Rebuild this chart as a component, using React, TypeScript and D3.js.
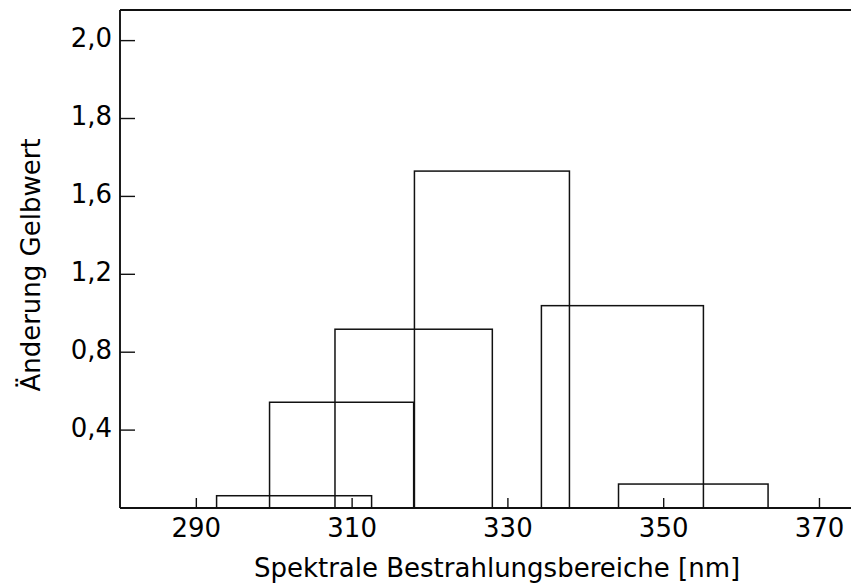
import React, { useRef, useEffect } from 'react'
import * as d3 from 'd3'

// spectral ranges (nm) and yellowness change per range
const binStarts = [292.6, 299.4, 307.8, 318, 334.3, 344.2]
const binEnds = [312.5, 317.9, 328, 337.9, 355.1, 363.4]
const changes = [0.063, 0.543, 0.918, 1.665, 1.039, 0.123]

const xTicks = [290, 310, 330, 350, 370]
const yTicks = [0.4, 0.8, 1.2, 1.6, 1.8, 2.0]
const yTickLabels = ['0,4', '0,8', '1,2', '1,6', '1,8', '2,0']

const xLabel = 'Spektrale Bestrahlungsbereiche [nm]'
const yLabel = 'Änderung Gelbwert'

const width = 851
const height = 585

export default function App() {
  const svgRef = useRef<SVGSVGElement>(null)

  useEffect(() => {
    if (!svgRef.current) return
    const svg = d3.select(svgRef.current)
    svg.selectAll('*').remove()

    const left = 120
    const right = 874
    const top = 10
    const bottom = 508
    const font = 'DejaVu Sans, sans-serif'
    const fontSize = '26px'
    const ink = '#111'

    const x = d3.scaleLinear().domain([280.2, 377]).range([left, right])
    // axis is not linear: 0..1.6 in steps of 0.4, then 1.6..2.0 in steps of 0.2
    const yUnits = d3.scaleLinear().domain([0, 1.6, 2.0]).range([0, 4, 6])
    const yPix = d3.scaleLinear().domain([0, 6.393]).range([bottom, top])
    const y = (v: number) => yPix(yUnits(v))

    // bars (outlines only)
    svg
      .append('g')
      .selectAll('rect')
      .data(changes.map((v, i) => ({ v, x0: binStarts[i], x1: binEnds[i] })))
      .enter()
      .append('rect')
      .attr('x', d => x(d.x0))
      .attr('y', d => y(d.v))
      .attr('width', d => x(d.x1) - x(d.x0))
      .attr('height', d => bottom - y(d.v))
      .attr('fill', 'none')
      .attr('stroke', ink)
      .attr('stroke-width', 1.5)

    // frame: left, top, bottom (right side lies outside the picture)
    const frame = svg.append('g').attr('stroke', ink).attr('stroke-width', 1.9)
    frame.append('line').attr('x1', left).attr('x2', left).attr('y1', top).attr('y2', bottom)
    frame.append('line').attr('x1', left).attr('x2', right).attr('y1', top).attr('y2', top)
    frame.append('line').attr('x1', left).attr('x2', right).attr('y1', bottom).attr('y2', bottom)

    // x ticks, pointing inward
    const xg = svg.append('g')
    xTicks.forEach(t => {
      xg.append('line')
        .attr('x1', x(t))
        .attr('x2', x(t))
        .attr('y1', bottom)
        .attr('y2', bottom - 10)
        .attr('stroke', ink)
        .attr('stroke-width', 1.4)
      xg.append('text')
        .attr('x', x(t))
        .attr('y', bottom + 29)
        .attr('text-anchor', 'middle')
        .style('font-family', font)
        .style('font-size', fontSize)
        .style('fill', '#000')
        .text(String(t))
    })

    // y ticks
    const yg = svg.append('g')
    yTicks.forEach((t, i) => {
      yg.append('line')
        .attr('x1', left)
        .attr('x2', left + 15)
        .attr('y1', y(t))
        .attr('y2', y(t))
        .attr('stroke', ink)
        .attr('stroke-width', 1.4)
      yg.append('text')
        .attr('x', left - 8)
        .attr('y', y(t) + 6.5)
        .attr('text-anchor', 'end')
        .style('font-family', font)
        .style('font-size', fontSize)
        .style('fill', '#000')
        .text(yTickLabels[i])
    })

    // axis labels
    svg
      .append('text')
      .attr('x', (left + right) / 2)
      .attr('y', 577)
      .attr('text-anchor', 'middle')
      .style('font-family', font)
      .style('font-size', fontSize)
      .style('fill', '#000')
      .text(xLabel)

    svg
      .append('text')
      .attr('transform', 'rotate(-90)')
      .attr('x', -265)
      .attr('y', 40)
      .attr('text-anchor', 'middle')
      .style('font-family', font)
      .style('font-size', fontSize)
      .style('fill', '#000')
      .text(yLabel)
  }, [])

  return (
    <div style={{ position: 'absolute', left: 0, top: 0 }}>
      <svg ref={svgRef} width={width} height={height} style={{ display: 'block', background: '#fff' }} />
    </div>
  )
}
